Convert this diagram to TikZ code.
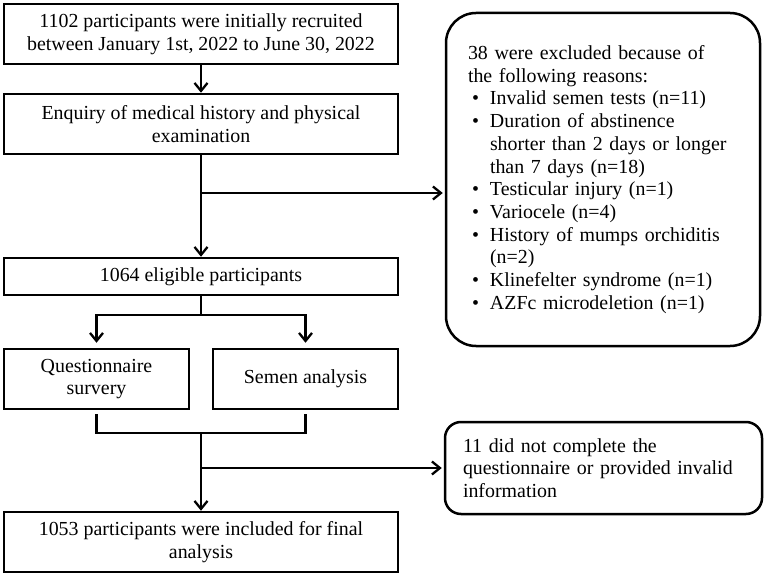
\documentclass[tikz,border=0pt]{standalone}
\usepackage{fontspec}
\setmainfont{Liberation Serif}
\usepackage{tikz}
\usetikzlibrary{positioning,arrows.meta,calc}
\tikzset{
  flow/.style={-{Straight Barb[length=8pt,width=13pt,line width=2.3pt]}, line width=2.3pt, draw=black},
  link/.style={line width=2.3pt, draw=black},
  every node/.style={anchor=center}
}
\newcommand{\exbul}{\makebox[22pt][l]{\hspace{4pt}\textbullet}}
\newcommand{\exind}{\hspace*{22pt}}

\begin{document}
\begin{tikzpicture}[
  x=1pt, y=-1pt,
  font=\fontsize{19.9}{22.7}\selectfont,
  box/.style={draw, line width=2.5pt, minimum width=394pt, minimum height=60pt, align=center, inner sep=0pt},
  halfbox/.style={box, minimum width=185pt},
  note/.style={draw, line width=2.5pt, align=left, inner ysep=0pt}
]
\useasboundingbox (0,0) rectangle (766,575);
\node[box] (recruit) at (201,34) {1102 participants were initially recruited\\between January 1st, 2022 to June 30, 2022};
\node[box] (enquiry) at (201,124) {Enquiry of medical history and physical\\examination};
\node[box, minimum height=37pt] (eligible) at (201,276.5) {1064 eligible participants};
\node[halfbox] (quest) at (96.5,379) {Questionnaire\\survery};
\node[halfbox] (semen) at (305.5,379) {Semen analysis};
\node[box] (final) at (201,542) {1053 participants were included for final\\analysis};
\node[note, rounded corners=30pt, inner xsep=22pt, text width=270pt, minimum height=333pt] (excl) at (603,179.5) {38 were excluded because of\\the following reasons:\\\exbul Invalid semen tests (n=11)\\\exbul Duration of abstinence\\\exind shorter than 2 days or longer\\\exind than 7 days (n=18)\\\exbul Testicular injury (n=1)\\\exbul Variocele (n=4)\\\exbul History of mumps orchiditis\\\exind (n=2)\\\exbul Klinefelter syndrome (n=1)\\\exbul AZFc microdeletion (n=1)\\[12pt]};
\node[note, rounded corners=16pt, inner xsep=18pt, text width=281pt, minimum height=92pt] (lost) at (603.5,468) {11 did not complete the\\questionnaire or provided invalid\\information};

\coordinate (b1) at (201,193);
\coordinate (split) at (201,315);
\coordinate (join) at (201,433);
\coordinate (b2) at (201,468);

\draw[flow] (recruit) -- (enquiry);
\draw[flow] (enquiry) -- (eligible);
\draw[flow, shorten >=2pt] (b1) -- (b1 -| excl.west);
\draw[link] (eligible) -- (split);
\draw[flow, shorten >=5pt] (split) -| (quest.north);
\draw[flow, shorten >=5pt] (split) -| (semen.north);
\draw[link] ([yshift=-4pt]quest.south) |- (join) -| ([yshift=-4pt]semen.south);
\draw[flow] (join) -- (final);
\draw[flow, shorten >=2pt] (b2) -- (b2 -| lost.west);
\end{tikzpicture}
\end{document}
